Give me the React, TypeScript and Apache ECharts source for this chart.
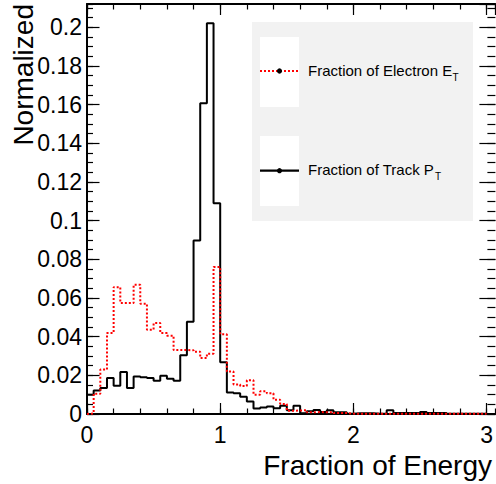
import React, { useEffect, useRef } from "react";
import * as echarts from "echarts";

// Histogram: 60 bins of width 0.05 from 0 to 3 (Fraction of Energy)
const BIN_WIDTH = 0.05;

// Fraction of Track P_T (black solid)
const trackPt = [
  0.0100, 0.0122, 0.0134, 0.0186, 0.0146, 0.0217, 0.0134, 0.0194, 0.0190, 0.0186,
  0.0172, 0.0198, 0.0182, 0.0172, 0.0304, 0.0477, 0.0897, 0.1607, 0.2020, 0.1090,
  0.0267, 0.0111, 0.0107, 0.0089, 0.0065, 0.0028, 0.0033, 0.0039, 0.0030, 0.0043,
  0.0019, 0.0043, 0.0004, 0.0014, 0.0021, 0.0010, 0.0019, 0.0009, 0.0009, 0.0001,
  0.0004, 0.0004, 0.0004, 0.0001, 0.0001, 0.0019, 0.0005, 0.0005, 0.0005, 0.0005,
  0.0010, 0.0005, 0.0005, 0.0005, 0.0001, 0.0001, 0.0001, 0.0001, 0.0001, 0.0001,
];

// Fraction of Electron E_T (red dotted)
const electronEt = [
  0.0003, 0.0105, 0.0230, 0.0419, 0.0656, 0.0574, 0.0574, 0.0668, 0.0570, 0.0436,
  0.0470, 0.0419, 0.0405, 0.0331, 0.0331, 0.0329, 0.0322, 0.0289, 0.0312, 0.0760,
  0.0412, 0.0220, 0.0153, 0.0145, 0.0174, 0.0100, 0.0117, 0.0107, 0.0074, 0.0052,
  0.0017, 0.0018, 0.0020, 0.0009, 0.0010, 0.0009, 0.0009, 0.0005, 0.0005, 0.0002,
  0.0001, 0.0001, 0.0001, 0.0001, 0.0001, 0.0001, 0.0001, 0.0001, 0.0001, 0.0001,
  0.0001, 0.0001, 0.0001, 0.0001, 0.0001, 0.0001, 0.0001, 0.0001, 0.0001, 0.0001,
];

const xTickLabels = ["0", "1", "2", "3"];
const legendLabels = ["Fraction of Electron E", "Fraction of Track P"];
const legendSubs = ["T", "T"];
const xTitle = "Fraction of Energy";
const yTitle = "Normalized";

const XMAX = 3.066;
const YMAX = 0.212;
const FONT = "Liberation Sans, Arial, Helvetica, sans-serif";

function histPoints(vals: number[]): number[][] {
  const pts: number[][] = [[0, 0]];
  vals.forEach((v, i) => pts.push([Number((i * BIN_WIDTH).toFixed(3)), v]));
  pts.push([Number((vals.length * BIN_WIDTH).toFixed(3)), vals[vals.length - 1]]);
  return pts;
}

export default function App() {
  const ref = useRef<HTMLDivElement>(null);

  useEffect(() => {
    document.body.style.margin = "0";
    if (!ref.current) return;
    const chart = echarts.init(ref.current, null, { renderer: "svg" });

    const baseX = {
      type: "value" as const,
      min: 0,
      max: XMAX,
      gridIndex: 0,
      splitLine: { show: false },
    };
    const baseY = {
      type: "value" as const,
      min: 0,
      max: YMAX,
      gridIndex: 0,
      splitLine: { show: false },
    };

    chart.setOption({
      animation: false,
      textStyle: { fontFamily: FONT },
      grid: { left: 87, top: 4, width: 410, height: 410 },
      xAxis: [
        {
          ...baseX,
          position: "bottom",
          interval: 1,
          axisLine: { show: true, onZero: false, lineStyle: { color: "#000", width: 2 } },
          axisTick: { show: true, inside: true, length: 11, lineStyle: { color: "#000", width: 1.2 } },
          axisLabel: {
            show: true,
            showMaxLabel: false,
            fontSize: 23,
            color: "#000",
            margin: 9,
            fontFamily: FONT,
            formatter: (v: number) => {
              const i = Math.round(v);
              return Math.abs(v - i) < 1e-6 && i < xTickLabels.length ? xTickLabels[i] : "";
            },
          },
        },
        {
          ...baseX,
          position: "bottom",
          interval: 0.2,
          axisLine: { show: false, onZero: false },
          axisTick: { show: true, inside: true, length: 5.5, lineStyle: { color: "#000", width: 1.2 } },
          axisLabel: { show: false },
        },
        {
          ...baseX,
          position: "top",
          interval: 1,
          axisLine: { show: true, onZero: false, lineStyle: { color: "#000", width: 2 } },
          axisTick: { show: true, inside: true, length: 11, lineStyle: { color: "#000", width: 1.2 } },
          axisLabel: { show: false },
        },
        {
          ...baseX,
          position: "top",
          interval: 0.2,
          axisLine: { show: false, onZero: false },
          axisTick: { show: true, inside: true, length: 5.5, lineStyle: { color: "#000", width: 1.2 } },
          axisLabel: { show: false },
        },
      ],
      yAxis: [
        {
          ...baseY,
          position: "left",
          interval: 0.02,
          axisLine: { show: true, onZero: false, lineStyle: { color: "#000", width: 2 } },
          axisTick: { show: true, inside: true, length: 12.5, lineStyle: { color: "#000", width: 1.2 } },
          axisLabel: {
            show: true,
            showMaxLabel: false,
            fontSize: 23,
            color: "#000",
            margin: 5,
            fontFamily: FONT,
          },
        },
        {
          ...baseY,
          position: "left",
          interval: 0.005,
          axisLine: { show: false, onZero: false },
          axisTick: { show: true, inside: true, length: 6, lineStyle: { color: "#000", width: 1.2 } },
          axisLabel: { show: false },
        },
        {
          ...baseY,
          position: "right",
          interval: 0.02,
          axisLine: { show: false, onZero: false },
          axisTick: { show: true, inside: true, length: 16, lineStyle: { color: "#000", width: 1.2 } },
          axisLabel: { show: false },
        },
        {
          ...baseY,
          position: "right",
          interval: 0.005,
          axisLine: { show: false, onZero: false },
          axisTick: { show: true, inside: true, length: 8, lineStyle: { color: "#000", width: 1.2 } },
          axisLabel: { show: false },
        },
      ],
      series: [
        {
          name: "Fraction of Track P_T",
          type: "line",
          step: "end",
          xAxisIndex: 0,
          yAxisIndex: 0,
          data: histPoints(trackPt),
          showSymbol: false,
          symbol: "none",
          lineStyle: { color: "#000", width: 2 },
          z: 2,
        },
        {
          name: "Fraction of Electron E_T",
          type: "line",
          step: "end",
          xAxisIndex: 0,
          yAxisIndex: 0,
          data: histPoints(electronEt),
          showSymbol: false,
          symbol: "none",
          lineStyle: { color: "#ff0000", width: 2, type: [2, 2] },
          z: 3,
        },
      ],
      graphic: [
        // legend box
        { type: "rect", left: 252, top: 22, shape: { width: 221, height: 199 }, style: { fill: "#f2f2f2" }, z: 10 },
        { type: "rect", left: 260, top: 37, shape: { width: 39, height: 70 }, style: { fill: "#ffffff" }, z: 11 },
        { type: "rect", left: 260, top: 136, shape: { width: 39, height: 70 }, style: { fill: "#ffffff" }, z: 11 },
        {
          type: "line",
          shape: { x1: 260, y1: 71, x2: 299, y2: 71 },
          style: { stroke: "#ff0000", lineWidth: 2, lineDash: [2, 2] },
          z: 12,
        },
        { type: "circle", shape: { cx: 279.5, cy: 71, r: 2.6 }, style: { fill: "#000" }, z: 13 },
        {
          type: "line",
          shape: { x1: 260, y1: 170.7, x2: 299, y2: 170.7 },
          style: { stroke: "#000", lineWidth: 2.2 },
          z: 12,
        },
        { type: "circle", shape: { cx: 279.5, cy: 170.7, r: 2.6 }, style: { fill: "#000" }, z: 13 },
        {
          type: "text",
          x: 308,
          y: 70.5,
          style: { text: legendLabels[0], fontSize: 15, fontFamily: FONT, fill: "#000", align: "left", verticalAlign: "middle" },
          z: 13,
        },
        {
          type: "text",
          x: 452.5,
          y: 77,
          style: { text: legendSubs[0], fontSize: 10, fontFamily: FONT, fill: "#000", align: "left", verticalAlign: "middle" },
          z: 13,
        },
        {
          type: "text",
          x: 308,
          y: 169.2,
          style: { text: legendLabels[1], fontSize: 15, fontFamily: FONT, fill: "#000", align: "left", verticalAlign: "middle" },
          z: 13,
        },
        {
          type: "text",
          x: 435,
          y: 176,
          style: { text: legendSubs[1], fontSize: 10, fontFamily: FONT, fill: "#000", align: "left", verticalAlign: "middle" },
          z: 13,
        },
        // axis titles
        {
          type: "text",
          x: 492,
          y: 465,
          style: { text: xTitle, fontSize: 28, fontFamily: FONT, fill: "#000", align: "right", verticalAlign: "middle" },
          z: 13,
        },
        {
          type: "text",
          x: 23.5,
          y: 4,
          rotation: Math.PI / 2,
          style: { text: yTitle, fontSize: 28, fontFamily: FONT, fill: "#000", align: "right", verticalAlign: "middle" },
          z: 13,
        },
      ],
    });

    return () => chart.dispose();
  }, []);

  return <div ref={ref} style={{ width: 496, height: 484 }} />;
}
